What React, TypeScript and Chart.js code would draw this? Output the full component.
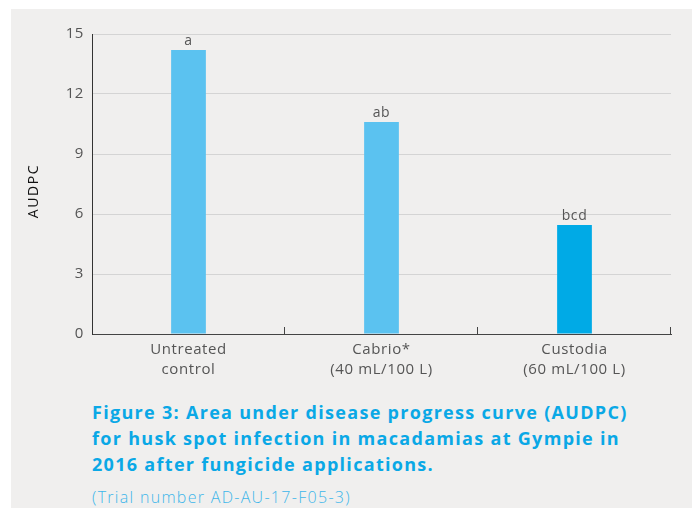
import React, { useEffect, useRef } from "react";
import { Chart, registerables } from "chart.js";
Chart.register(...registerables);

const categories: string[][] = [
  ["Untreated", "control"],
  ["Cabrio*", "(40 mL/100 L)"],
  ["Custodia", "(60 mL/100 L)"],
];
const audpcValues = [14.2, 10.6, 5.45];
const significanceLetters = ["a", "ab", "bcd"];
const barColors = ["#5bc2f0", "#5bc2f0", "#00aae6"];
const yAxisTitle = "AUDPC";
const yMin = 0;
const yMax = 15;
const yStep = 3;

const FONT = "'Open Sans', 'Noto Sans', sans-serif";
const SPACING = "0.6px";

const spacingPlugin = {
  id: "spacing",
  beforeUpdate(chart: any) {
    chart.ctx.letterSpacing = SPACING;
  },
  beforeLayout(chart: any) {
    chart.ctx.letterSpacing = SPACING;
  },
  beforeDraw(chart: any) {
    chart.ctx.letterSpacing = SPACING;
  },
};

const letterPlugin = {
  id: "letters",
  afterDatasetsDraw(chart: any) {
    const ctx = chart.ctx;
    const meta = chart.getDatasetMeta(0);
    ctx.save();
    ctx.font = `14px ${FONT}`;
    ctx.fillStyle = "#555";
    ctx.textAlign = "center";
    ctx.textBaseline = "bottom";
    meta.data.forEach((bar: any, i: number) => {
      ctx.fillText(significanceLetters[i], bar.x, bar.y - 2);
    });
    ctx.restore();
  },
};

const yTitlePlugin = {
  id: "yTitle",
  afterDraw(chart: any) {
    const ctx = chart.ctx;
    const area = chart.chartArea;
    ctx.save();
    ctx.letterSpacing = "1.6px";
    ctx.font = `14px ${FONT}`;
    ctx.fillStyle = "#111";
    ctx.textAlign = "center";
    ctx.textBaseline = "middle";
    ctx.translate(23, (area.top + area.bottom) / 2 + 7);
    ctx.rotate(-Math.PI / 2);
    ctx.fillText(yAxisTitle, 0, 0);
    ctx.restore();
  },
};

const upTickPlugin = {
  id: "upTicks",
  afterDraw(chart: any) {
    const ctx = chart.ctx;
    const xs = chart.scales.x;
    const n = categories.length;
    const bottom = chart.chartArea.bottom;
    ctx.save();
    ctx.strokeStyle = "#444";
    ctx.lineWidth = 1;
    for (let i = 1; i <= n; i++) {
      const x = Math.round(xs.left + (i * xs.width) / n) - 0.5;
      ctx.beginPath();
      ctx.moveTo(x, bottom - 7);
      ctx.lineTo(x, bottom);
      ctx.stroke();
    }
    ctx.restore();
  },
};

export default function App() {
  const ref = useRef<HTMLCanvasElement | null>(null);
  useEffect(() => {
    if (!ref.current) return;
    const chart = new Chart(ref.current, {
      type: "bar",
      data: {
        labels: categories,
        datasets: [
          {
            data: audpcValues,
            backgroundColor: barColors,
            borderWidth: 0,
            categoryPercentage: 1,
            barPercentage: 0.18,
          },
        ],
      },
      options: {
        responsive: false,
        animation: false,
        devicePixelRatio: 1,
        layout: { padding: { top: 25, right: 21, left: 0, bottom: 0 } },
        plugins: {
          legend: { display: false },
          tooltip: { enabled: false },
        },
        scales: {
          x: {
            offset: true,
            grid: { display: true, drawOnChartArea: false, drawTicks: false },
            border: { display: true, color: "#444", width: 1 },
            ticks: {
              color: "#555",
              font: { family: FONT, size: 15, lineHeight: 1.33 },
              padding: 6,
              maxRotation: 0,
            },
            afterFit: (s: any) => {
              s.height = 55;
            },
          },
          y: {
            min: yMin,
            max: yMax,
            ticks: {
              stepSize: yStep,
              color: "#555",
              font: { family: FONT, size: 15 },
              padding: 8,
            },
            grid: { color: "#d4d4d4", drawTicks: false },
            border: { display: true, color: "#333", width: 1 },
            afterFit: (s: any) => {
              s.width = 81;
            },
          },
        },
      },
      plugins: [spacingPlugin, letterPlugin, yTitlePlugin, upTickPlugin],
    });
    return () => chart.destroy();
  }, []);

  return (
    <div
      style={{
        position: "absolute",
        left: 0,
        top: 0,
        width: 696,
        height: 508,
        background: "#ffffff",
        overflow: "hidden",
      }}
    >
      <div
        style={{
          position: "absolute",
          left: 11,
          top: 9,
          width: 681,
          height: 499,
          background: "#f0efee",
        }}
      >
        <canvas
          ref={ref}
          width={681}
          height={380}
          style={{ position: "absolute", left: 0, top: 0, width: 681, height: 380 }}
        />
        <div
          style={{
            position: "absolute",
            left: 81,
            top: 390,
            whiteSpace: "nowrap",
            fontFamily: FONT,
            fontWeight: 700,
            fontSize: 18,
            letterSpacing: "1.3px",
            lineHeight: "26px",
            color: "#0aa8e6",
          }}
        >
          Figure 3: Area under disease progress curve (AUDPC)
          <br />
          for husk spot infection in macadamias at Gympie in
          <br />
          2016 after fungicide applications.
        </div>
        <div
          style={{
            position: "absolute",
            left: 81,
            top: 478,
            whiteSpace: "nowrap",
            fontFamily: FONT,
            fontWeight: 300,
            fontSize: 16,
            letterSpacing: "1.3px",
            lineHeight: "20px",
            color: "#3db6ea",
          }}
        >
          (Trial number AD-AU-17-F05-3)
        </div>
      </div>
    </div>
  );
}
